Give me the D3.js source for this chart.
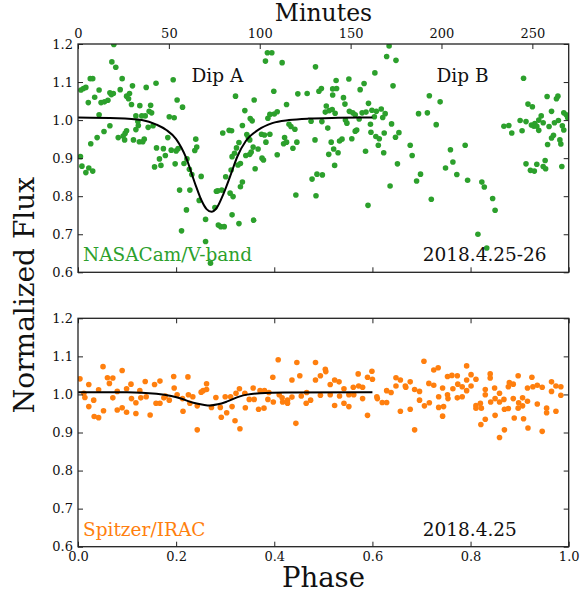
<!DOCTYPE html>
<html>
<head>
<meta charset="utf-8">
<script src="https://cdn.jsdelivr.net/npm/d3@7"></script>
<style>
  body { margin: 0; background: #fff; }
  svg { display: block; }
  text { font-family: "DejaVu Serif", serif; fill: #111; }
</style>
</head>
<body>
<svg id="chart" width="580" height="594"></svg>
<script>
// ---- data -------------------------------------------------------------
const periodMinutes = 270;
const fluxTicks = [0.6, 0.7, 0.8, 0.9, 1.0, 1.1, 1.2];
const phaseTicks = [0, 0.2, 0.4, 0.6, 0.8, 1.0];
const minuteTicks = [0, 50, 100, 150, 200, 250];

// NASACam V-band photometry, [phase, normalized flux]
const nasaPoints = [
  [0.005,0.904],[0.006,1.079],[0.008,0.879],[0.011,1.083],[0.016,1.086],[0.016,0.862],[0.021,1.046],[0.022,0.874],
  [0.025,1.109],[0.026,0.938],[0.030,1.109],[0.030,0.866],[0.034,1.060],[0.039,0.954],[0.043,1.079],[0.043,1.014],
  [0.047,1.046],[0.053,0.970],[0.054,1.048],[0.061,1.052],[0.065,0.985],[0.065,1.072],[0.068,1.067],[0.069,1.153],
  [0.072,1.070],[0.073,1.199],[0.077,1.139],[0.082,0.954],[0.086,1.080],[0.090,1.109],[0.092,0.958],[0.095,0.948],
  [0.096,0.965],[0.099,0.972],[0.099,1.063],[0.103,1.056],[0.105,1.070],[0.109,1.041],[0.111,1.090],[0.113,0.948],
  [0.118,1.011],[0.118,0.975],[0.122,0.996],[0.123,0.986],[0.125,0.943],[0.126,1.038],[0.130,1.011],[0.132,0.943],
  [0.135,0.950],[0.137,1.011],[0.139,1.086],[0.143,0.981],[0.145,1.023],[0.148,1.039],[0.150,1.019],[0.153,0.985],
  [0.156,0.877],[0.159,1.097],[0.160,0.927],[0.166,0.898],[0.169,0.881],[0.174,0.925],[0.178,0.907],[0.183,0.954],
  [0.186,1.009],[0.190,0.921],[0.194,1.106],[0.196,1.006],[0.198,0.885],[0.200,0.919],[0.202,1.053],[0.204,0.925],
  [0.207,0.816],[0.211,0.709],[0.213,1.034],[0.216,0.886],[0.221,0.764],[0.222,0.898],[0.227,0.871],[0.228,0.816],
  [0.232,0.857],[0.238,0.920],[0.240,0.950],[0.242,0.929],[0.247,0.789],[0.251,0.852],[0.260,0.739],[0.260,0.681],
  [0.270,0.624],[0.279,0.770],[0.282,0.813],[0.285,0.814],[0.286,0.724],[0.291,0.720],[0.293,0.816],[0.295,0.966],
  [0.298,0.720],[0.301,0.851],[0.308,0.973],[0.310,0.808],[0.312,0.869],[0.313,0.972],[0.314,0.904],[0.314,0.751],
  [0.316,0.799],[0.319,0.913],[0.321,1.063],[0.323,0.927],[0.326,0.882],[0.328,0.941],[0.328,0.728],[0.331,0.886],
  [0.331,0.825],[0.335,0.986],[0.335,0.837],[0.340,1.025],[0.342,0.907],[0.344,0.962],[0.347,0.955],[0.350,0.948],
  [0.350,0.910],[0.351,1.004],[0.353,0.916],[0.355,0.998],[0.357,0.929],[0.358,0.737],[0.359,1.053],[0.361,0.872],
  [0.367,0.924],[0.374,0.963],[0.375,0.900],[0.378,0.895],[0.380,0.961],[0.382,1.155],[0.383,0.942],[0.386,1.177],
  [0.387,1.005],[0.391,1.015],[0.391,0.963],[0.395,1.177],[0.399,1.076],[0.400,1.016],[0.406,1.022],[0.406,0.909],
  [0.416,1.151],[0.419,0.938],[0.421,0.954],[0.425,1.041],[0.425,0.942],[0.430,0.989],[0.434,0.983],[0.438,0.926],
  [0.442,0.976],[0.444,0.803],[0.446,0.942],[0.448,1.069],[0.467,1.070],[0.475,0.997],[0.477,0.845],[0.483,0.948],
  [0.484,1.140],[0.485,0.801],[0.487,0.858],[0.491,1.076],[0.496,1.083],[0.497,0.996],[0.498,0.856],[0.504,1.021],
  [0.506,1.037],[0.509,0.979],[0.511,0.910],[0.512,1.025],[0.516,0.942],[0.518,1.028],[0.519,1.082],[0.519,1.066],
  [0.521,0.924],[0.523,0.881],[0.524,1.018],[0.526,1.104],[0.527,1.083],[0.530,0.914],[0.533,0.945],[0.538,0.950],
  [0.541,1.059],[0.544,1.042],[0.545,1.000],[0.548,0.992],[0.552,1.108],[0.553,1.023],[0.558,0.951],[0.560,1.019],
  [0.565,1.014],[0.565,0.971],[0.568,0.974],[0.573,1.003],[0.575,1.080],[0.579,1.019],[0.583,1.096],[0.586,0.918],
  [0.587,1.021],[0.591,0.776],[0.592,1.044],[0.596,0.989],[0.597,0.968],[0.599,1.026],[0.604,1.009],[0.605,1.124],
  [0.607,0.957],[0.608,1.023],[0.612,0.934],[0.614,0.951],[0.618,1.029],[0.621,1.007],[0.623,0.914],[0.624,0.966],
  [0.626,1.017],[0.629,1.167],[0.634,1.195],[0.636,0.827],[0.639,0.990],[0.642,1.090],[0.647,0.955],[0.648,1.157],
  [0.651,0.885],[0.654,0.967],[0.677,0.934],[0.681,0.907],[0.690,0.840],[0.694,1.017],[0.698,0.858],[0.712,1.019],
  [0.716,1.064],[0.720,0.792],[0.730,0.988],[0.738,1.048],[0.749,0.874],[0.759,0.922],[0.764,0.890],[0.772,0.857],
  [0.789,0.934],[0.794,0.842],[0.815,0.700],[0.823,0.837],[0.828,0.824],[0.833,0.664],[0.845,0.794],[0.850,0.763],
  [0.868,0.984],[0.878,0.986],[0.884,0.966],[0.901,0.999],[0.905,0.972],[0.908,1.110],[0.913,0.885],[0.913,0.996],
  [0.917,1.042],[0.922,0.868],[0.924,0.987],[0.926,1.035],[0.929,0.984],[0.930,0.866],[0.931,0.991],[0.935,0.984],
  [0.935,0.884],[0.939,0.973],[0.939,1.000],[0.944,1.011],[0.948,0.993],[0.948,0.878],[0.952,0.894],[0.953,0.872],
  [0.956,1.062],[0.957,0.936],[0.960,0.983],[0.965,1.023],[0.965,0.953],[0.969,0.960],[0.971,0.993],[0.975,1.056],
  [0.978,1.063],[0.979,0.999],[0.982,0.948],[0.984,0.937],[0.986,0.878],[0.987,0.985],[0.990,1.019],[0.990,0.974],
  [0.995,1.014],[0.998,1.006]
];

// Dip A model for the V-band, [phase, normalized flux]
const nasaModel = [
  [0.000,1.007],[0.080,1.005],[0.130,1.000],[0.160,0.988],[0.180,0.974],[0.200,0.950],[0.220,0.902],
  [0.240,0.828],[0.252,0.788],[0.262,0.766],[0.272,0.759],[0.283,0.770],[0.296,0.805],[0.310,0.852],
  [0.325,0.905],[0.342,0.945],[0.368,0.975],[0.396,0.992],[0.430,1.000],[0.470,1.004],[0.530,1.006],[0.600,1.007]
];

// Spitzer/IRAC photometry, [phase, normalized flux]
const iracPoints = [
  [0.004,1.041],[0.012,1.003],[0.014,0.992],[0.022,1.026],[0.022,0.968],[0.032,0.985],[0.033,0.942],[0.042,0.939],
  [0.042,1.012],[0.051,1.073],[0.052,0.957],[0.060,1.044],[0.064,1.029],[0.071,0.991],[0.071,1.043],[0.080,1.008],
  [0.080,0.959],[0.090,1.063],[0.090,0.965],[0.099,1.015],[0.099,0.953],[0.108,1.027],[0.109,0.989],[0.118,0.978],
  [0.118,0.950],[0.126,1.010],[0.128,0.991],[0.137,1.034],[0.139,0.994],[0.147,0.946],[0.156,1.026],[0.159,0.977],
  [0.167,1.035],[0.167,0.977],[0.175,0.991],[0.178,0.996],[0.186,0.985],[0.195,1.047],[0.196,1.017],[0.202,0.999],
  [0.213,0.989],[0.214,0.956],[0.224,1.046],[0.225,0.999],[0.228,0.977],[0.234,0.994],[0.243,0.970],[0.243,0.907],
  [0.251,1.006],[0.255,1.010],[0.262,1.028],[0.262,1.013],[0.272,0.966],[0.281,0.992],[0.290,0.966],[0.292,0.940],
  [0.300,0.994],[0.303,0.952],[0.311,0.994],[0.314,0.968],[0.320,0.931],[0.322,1.003],[0.329,1.015],[0.330,0.910],
  [0.340,1.003],[0.341,0.965],[0.349,0.987],[0.357,1.017],[0.359,0.987],[0.368,0.961],[0.371,1.010],[0.379,0.964],
  [0.380,1.010],[0.387,0.987],[0.389,1.005],[0.397,1.045],[0.398,0.980],[0.408,1.091],[0.410,0.999],[0.416,0.991],
  [0.417,0.980],[0.427,0.985],[0.427,0.977],[0.436,0.993],[0.436,1.038],[0.444,0.924],[0.446,1.084],[0.452,1.049],
  [0.455,0.996],[0.465,0.977],[0.466,1.005],[0.474,0.985],[0.484,1.084],[0.484,1.038],[0.494,1.049],[0.494,0.998],
  [0.504,1.066],[0.505,1.060],[0.514,1.026],[0.514,0.999],[0.523,1.038],[0.523,0.971],[0.532,1.033],[0.533,0.996],
  [0.542,1.015],[0.542,0.977],[0.552,0.999],[0.552,0.968],[0.561,1.019],[0.562,0.999],[0.571,1.054],[0.572,1.022],
  [0.580,1.019],[0.580,0.989],[0.590,1.045],[0.590,0.945],[0.599,1.061],[0.600,1.040],[0.609,0.994],[0.610,0.989],
  [0.620,0.979],[0.629,0.979],[0.629,1.010],[0.638,1.005],[0.648,1.044],[0.648,1.022],[0.657,1.038],[0.657,0.956],
  [0.667,1.022],[0.668,1.019],[0.677,1.033],[0.677,0.961],[0.686,1.013],[0.686,0.907],[0.696,1.008],[0.696,0.985],
  [0.705,1.087],[0.706,0.970],[0.715,1.029],[0.716,0.978],[0.725,1.064],[0.725,1.024],[0.734,1.070],[0.735,0.994],
  [0.735,0.966],[0.743,1.017],[0.743,0.943],[0.745,0.968],[0.753,1.047],[0.753,0.999],[0.754,0.989],[0.762,1.050],
  [0.764,1.015],[0.773,1.049],[0.773,0.991],[0.774,1.027],[0.783,1.020],[0.783,0.994],[0.792,1.075],[0.792,1.038],
  [0.792,1.010],[0.801,1.052],[0.801,1.022],[0.811,1.040],[0.811,0.971],[0.811,0.964],[0.820,0.977],[0.821,0.921],
  [0.822,0.964],[0.830,1.013],[0.830,0.999],[0.830,0.935],[0.840,1.054],[0.840,1.043],[0.841,0.980],[0.849,1.017],
  [0.850,0.945],[0.850,0.989],[0.859,1.003],[0.859,0.980],[0.859,0.887],[0.868,0.987],[0.869,0.961],[0.869,0.907],
  [0.877,0.963],[0.877,1.020],[0.879,1.031],[0.887,1.027],[0.887,0.989],[0.889,0.938],[0.897,1.049],[0.897,0.964],
  [0.898,0.978],[0.906,0.991],[0.906,0.970],[0.908,0.936],[0.916,1.017],[0.916,0.982],[0.917,0.912],[0.925,1.045],
  [0.927,1.020],[0.936,1.024],[0.936,0.975],[0.946,1.019],[0.946,0.903],[0.955,0.964],[0.955,0.952],[0.965,1.033],
  [0.965,1.008],[0.974,1.022],[0.974,0.956],[0.984,1.020],[0.984,0.998]
];

// Dip A model for IRAC, [phase, normalized flux]
const iracModel = [
  [0.000,1.006],[0.100,1.006],[0.160,1.002],[0.190,0.996],[0.208,0.990],[0.235,0.978],[0.255,0.973],
  [0.269,0.971],[0.285,0.974],[0.303,0.981],[0.330,0.995],[0.371,1.003],[0.420,1.005],[0.600,1.006]
];

// ---- layout -----------------------------------------------------------
const svg = d3.select("#chart");
const plotLeft = 78, plotRight = 568.7;
const panels = [
  { top: 44, bottom: 272.3, points: nasaPoints, model: nasaModel, color: "#2ca02c",
    label: "NASACam/V-band", date: "2018.4.25-26", id: "nasa" },
  { top: 318.3, bottom: 546.7, points: iracPoints, model: iracModel, color: "#ff7f0e",
    label: "Spitzer/IRAC", date: "2018.4.25", id: "irac" }
];

const x = d3.scaleLinear().domain([0, 1]).range([plotLeft, plotRight]);
const xMinutes = d3.scaleLinear().domain([0, periodMinutes]).range([plotLeft, plotRight]);
const fmt1 = d3.format(".1f");
const tickLen = 5;

function styleAxis(g) {
  g.select(".domain").remove();
  g.selectAll(".tick line").attr("stroke", "#222").attr("stroke-width", 1);
  g.selectAll(".tick text")
    .attr("fill", "#222")
    .style("font-family", "'DejaVu Serif', serif")
    .style("font-size", "13px");
}

panels.forEach((p, i) => {
  const y = d3.scaleLinear().domain([0.6, 1.2]).range([p.bottom, p.top]);
  const g = svg.append("g");

  svg.append("clipPath").attr("id", "clip-" + p.id)
    .append("rect")
    .attr("x", plotLeft).attr("y", p.top)
    .attr("width", plotRight - plotLeft).attr("height", p.bottom - p.top);

  // photometry
  g.append("g").attr("clip-path", `url(#clip-${p.id})`)
    .selectAll("circle").data(p.points).join("circle")
    .attr("cx", d => x(d[0]))
    .attr("cy", d => y(d[1]))
    .attr("r", 2.8)
    .attr("fill", p.color);

  // model curve
  g.append("path")
    .datum(p.model)
    .attr("fill", "none")
    .attr("stroke", "#000")
    .attr("stroke-width", 2)
    .attr("d", d3.line().x(d => x(d[0])).y(d => y(d[1])).curve(d3.curveMonotoneX));

  // axes, ticks pointing inward on all four sides
  g.append("g").attr("transform", `translate(${plotLeft},0)`)
    .call(d3.axisLeft(y).tickValues(fluxTicks).tickSize(-tickLen).tickPadding(5).tickFormat(fmt1))
    .call(styleAxis);
  g.append("g").attr("transform", `translate(${plotRight},0)`)
    .call(d3.axisRight(y).tickValues(fluxTicks).tickSize(-tickLen).tickFormat(""))
    .call(styleAxis);

  if (i === 0) {
    g.append("g").attr("transform", `translate(0,${p.top})`)
      .call(d3.axisTop(xMinutes).tickValues(minuteTicks).tickSize(-tickLen).tickPadding(6))
      .call(styleAxis);
    g.append("g").attr("transform", `translate(0,${p.bottom})`)
      .call(d3.axisBottom(x).tickValues(phaseTicks).tickSize(-tickLen).tickFormat(""))
      .call(styleAxis);
  } else {
    g.append("g").attr("transform", `translate(0,${p.top})`)
      .call(d3.axisTop(x).tickValues(phaseTicks).tickSize(-tickLen).tickFormat(""))
      .call(styleAxis);
    g.append("g").attr("transform", `translate(0,${p.bottom})`)
      .call(d3.axisBottom(x).tickValues(phaseTicks).tickSize(-tickLen).tickPadding(5).tickFormat(fmt1))
      .call(styleAxis);
  }

  // frame
  g.append("rect")
    .attr("x", plotLeft).attr("y", p.top)
    .attr("width", plotRight - plotLeft).attr("height", p.bottom - p.top)
    .attr("fill", "none").attr("stroke", "#222").attr("stroke-width", 1.3);

  // instrument and date labels
  g.append("text")
    .attr("x", plotLeft + 5).attr("y", p.bottom - 11)
    .attr("fill", p.color).style("fill", p.color)
    .style("font-size", "18.5px")
    .text(p.label);
  g.append("text")
    .attr("x", 422.7).attr("y", p.bottom - 11)
    .style("font-size", "18.5px")
    .text(p.date);
});

// dip annotations
svg.append("text").attr("x", 191.5).attr("y", 82).style("font-size", "18.5px").text("Dip A");
svg.append("text").attr("x", 436.5).attr("y", 82).style("font-size", "18.5px").text("Dip B");

// axis titles
svg.append("text").attr("x", 323.5).attr("y", 21).attr("text-anchor", "middle")
  .style("font-size", "23.5px").text("Minutes");
svg.append("text").attr("x", 323.5).attr("y", 587).attr("text-anchor", "middle")
  .style("font-size", "27.5px").text("Phase");
svg.append("text").attr("transform", "translate(34,295) rotate(-90)").attr("text-anchor", "middle")
  .style("font-size", "28px").text("Normalized Flux");
</script>
</body>
</html>
